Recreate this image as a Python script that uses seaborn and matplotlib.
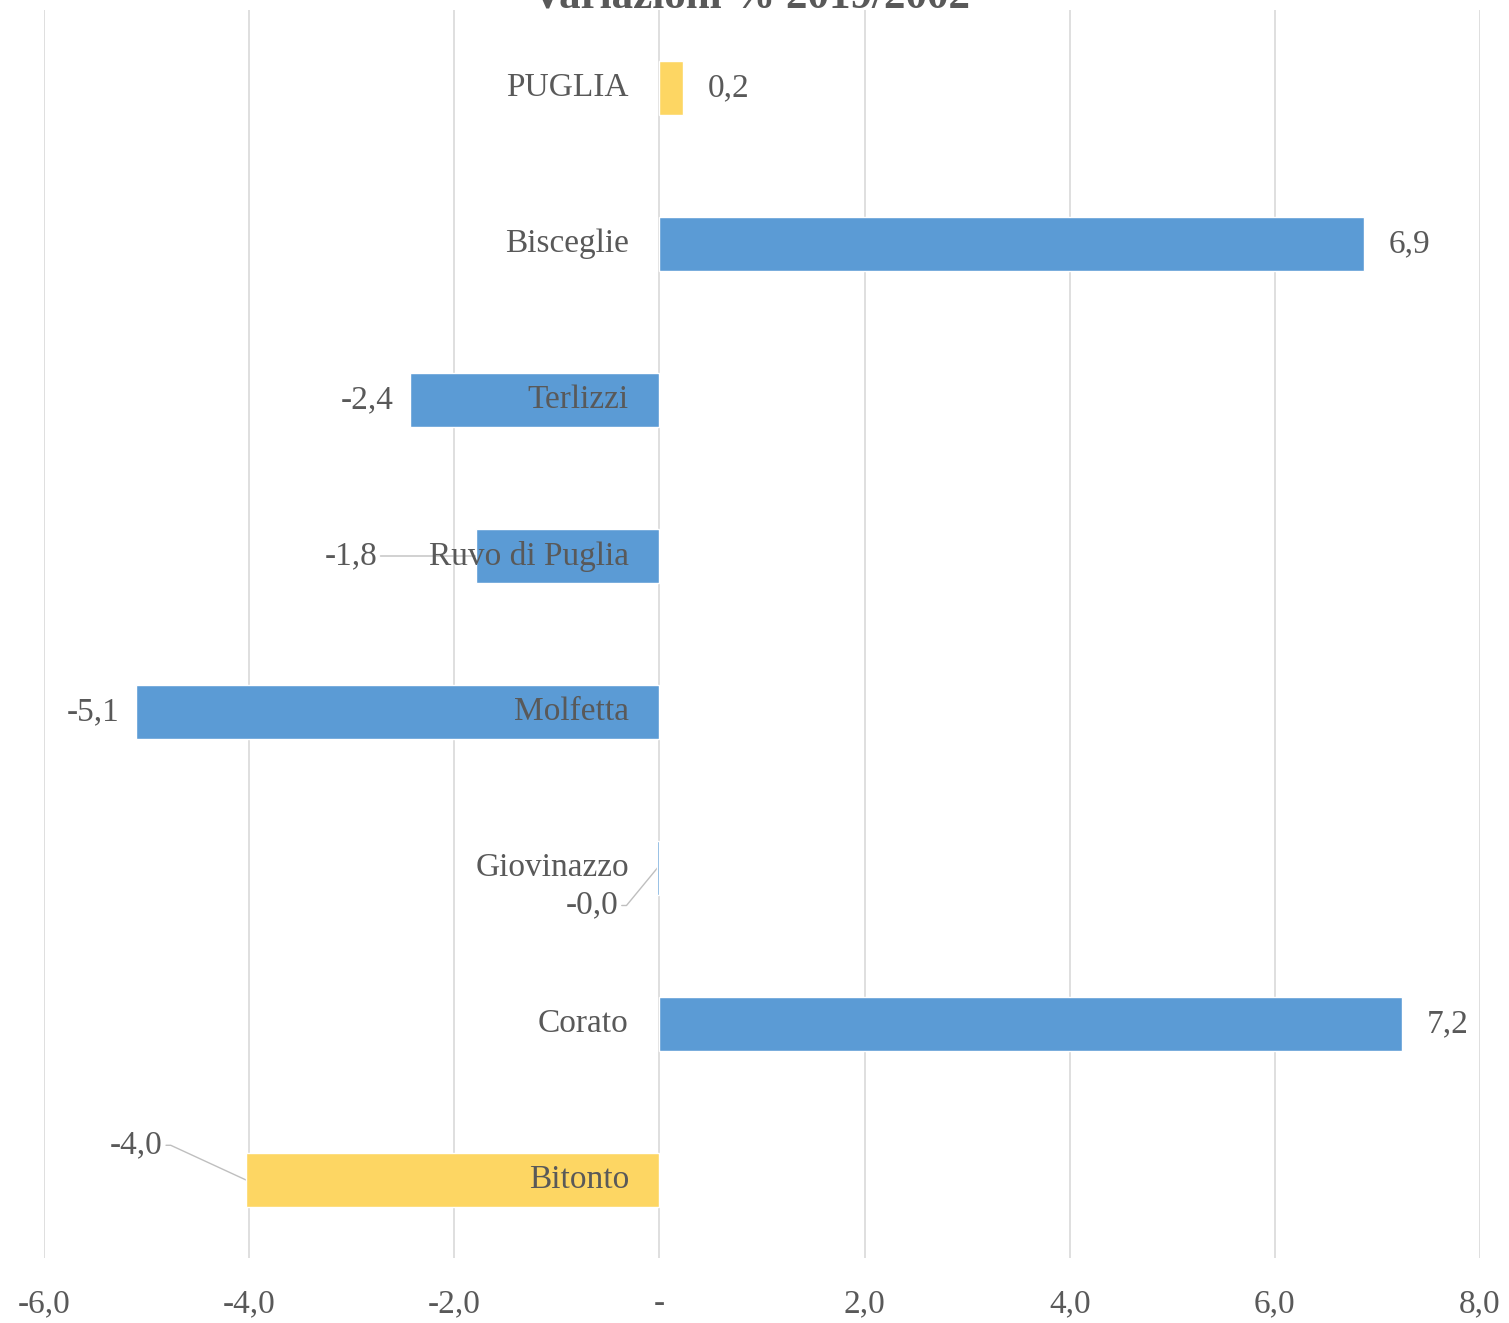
import numpy as np
import pandas as pd
import matplotlib
matplotlib.use('Agg')
import matplotlib.pyplot as plt
import seaborn as sns
from matplotlib.ticker import FuncFormatter, MultipleLocator

# data
comuni = ['PUGLIA', 'Bisceglie', 'Terlizzi', 'Ruvo di Puglia',
          'Molfetta', 'Giovinazzo', 'Corato', 'Bitonto']
variazioni = [0.23, 6.87, -2.43, -1.79, -5.10, -0.02, 7.24, -4.03]
evidenza = ['si', 'no', 'no', 'no', 'no', 'no', 'no', 'si']
titolo = 'Variazioni % 2019/2002'

df = pd.DataFrame({'Comune': comuni, 'Variazione': variazioni, 'Evidenza': evidenza})

sns.set_style('white')
plt.rcParams['font.family'] = ['Liberation Serif', 'DejaVu Serif']

grey_text = '#595959'
grid_col = '#D9D9D9'
fs = 24

fig = plt.figure(figsize=(15.09, 13.23), dpi=100)
ax = fig.add_axes([44 / 1509, 1 - 1258 / 1323, 1436 / 1509, 1248 / 1323])

sns.barplot(data=df, y='Comune', x='Variazione', hue='Evidenza',
            palette={'si': '#FDD663', 'no': '#5B9BD5'}, dodge=False,
            width=0.35, orient='h', legend=False, ax=ax, zorder=2,
            saturation=1)

ax.set_xlim(-6, 8)
ax.set_ylim(len(comuni) - 0.5, -0.5)
ax.xaxis.set_major_locator(MultipleLocator(2))
ax.xaxis.set_major_formatter(FuncFormatter(
    lambda v, p: '-' if abs(v) < 1e-9 else f'{v:.1f}'.replace('.', ',')))
ax.tick_params(axis='x', length=0, pad=22, labelsize=fs, labelcolor=grey_text)
ax.set_yticks([])
ax.set_xlabel('')
ax.set_ylabel('')
for s in ax.spines.values():
    s.set_visible(False)
ax.grid(True, axis='x', color=grid_col, linewidth=1.2, zorder=0)
ax.set_axisbelow(True)

# category names just left of the zero line
for i, nome in enumerate(comuni):
    ax.annotate(nome, xy=(0, i), xytext=(-22, 0), textcoords='offset points',
                ha='right', va='center', fontsize=fs, color=grey_text, zorder=3)

# value labels (some displaced with leader lines as in the original)
spostati = {'Ruvo di Puglia': (-71, 0), 'Giovinazzo': (-28, -27), 'Bitonto': (-60, 25)}
for i, (nome, v) in enumerate(zip(comuni, variazioni)):
    lab = f'{v:.1f}'.replace('.', ',')
    if nome in spostati:
        ax.annotate(lab, xy=(v, i), xytext=spostati[nome], textcoords='offset points',
                    ha='right', va='center', fontsize=fs, color=grey_text, zorder=1,
                    arrowprops=dict(arrowstyle='-', color='#BFBFBF', lw=1,
                                    shrinkA=0, shrinkB=0, relpos=(1, 0.5),
                                    connectionstyle='arc,angleA=0,armA=8,angleB=0,armB=0,rad=0'))
    elif v >= 0:
        ax.annotate(lab, xy=(v, i), xytext=(18, 0), textcoords='offset points',
                    ha='left', va='center', fontsize=fs, color=grey_text)
    else:
        ax.annotate(lab, xy=(v, i), xytext=(-12, 0), textcoords='offset points',
                    ha='right', va='center', fontsize=fs, color=grey_text)

# title, mostly cut off at the top edge in the reference
fig.text(0.4975, 1 - 8 / 1323, titolo, ha='center', va='baseline',
         fontsize=31, fontweight='bold', color=grey_text)

fig.savefig('out.png', dpi=100)
